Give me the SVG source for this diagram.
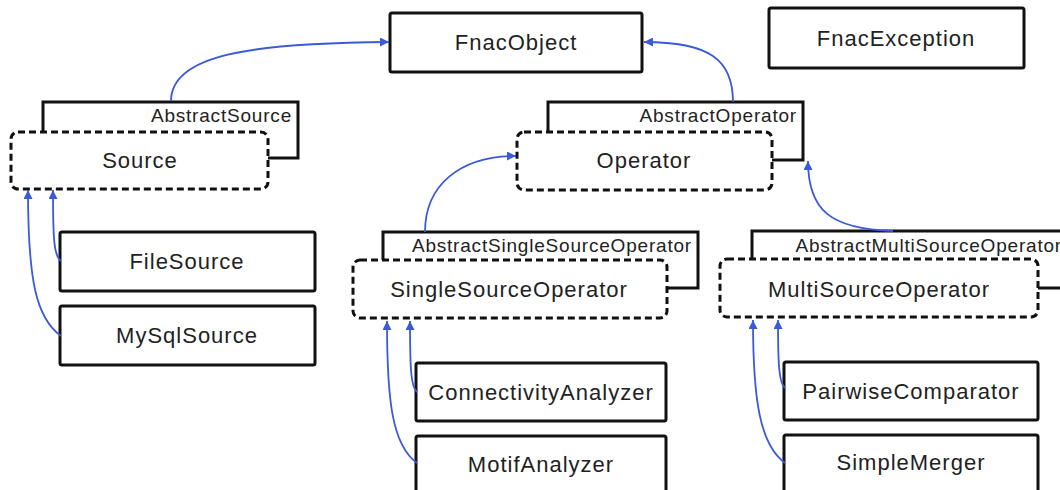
<svg xmlns="http://www.w3.org/2000/svg" width="1060" height="490" viewBox="0 0 1060 490">
  <defs>
    <style>
      .box { fill: #fff; stroke: #111; stroke-width: 3; }
      .dash { fill: #fff; stroke: #111; stroke-width: 3; stroke-dasharray: 7 4; }
      .t { font-family: "Liberation Sans", Arial, sans-serif; font-size: 22px; letter-spacing: 1px; fill: #222; text-anchor: middle; }
      .a { font-family: "Liberation Sans", Arial, sans-serif; font-size: 19px; letter-spacing: 0.8px; fill: #222; text-anchor: end; }
      .c { fill: none; stroke: #3a5ad8; stroke-width: 1.8; marker-end: url(#arr); }
    </style>
    <marker id="arr" viewBox="0 0 10 10" refX="10" refY="5" markerWidth="11" markerHeight="9" markerUnits="userSpaceOnUse" orient="auto">
      <path d="M0,0 L10,5 L0,10 z" fill="#3a5ad8"/>
    </marker>
  </defs>
  <rect width="1060" height="490" fill="#fff"/>

  <g id="FnacObject">
    <rect class="box" x="390" y="13" width="252" height="59" rx="2"/>
    <text class="t" x="516" y="50">FnacObject</text>
  </g>
  <g id="FnacException">
    <rect class="box" x="769" y="8" width="255" height="60" rx="2"/>
    <text class="t" x="896" y="46">FnacException</text>
  </g>

  <g id="AbstractSource">
    <rect class="box" x="43" y="102" width="255" height="56"/>
    <text class="a" x="292" y="122">AbstractSource</text>
  </g>
  <g id="Source">
    <rect class="dash" x="11" y="132" width="257" height="57" rx="7"/>
    <text class="t" x="140" y="168">Source</text>
  </g>
  <g id="FileSource">
    <rect class="box" x="60" y="232" width="255" height="59" rx="2"/>
    <text class="t" x="187" y="269">FileSource</text>
  </g>
  <g id="MySqlSource">
    <rect class="box" x="60" y="306" width="255" height="59" rx="2"/>
    <text class="t" x="187" y="343">MySqlSource</text>
  </g>

  <g id="AbstractOperator">
    <rect class="box" x="548" y="102" width="255" height="58"/>
    <text class="a" x="797" y="122">AbstractOperator</text>
  </g>
  <g id="Operator">
    <rect class="dash" x="517" y="132" width="255" height="58" rx="7"/>
    <text class="t" x="644" y="168">Operator</text>
  </g>

  <g id="AbstractSingleSourceOperator">
    <rect class="box" x="383" y="232" width="315" height="56"/>
    <text class="a" x="692" y="252">AbstractSingleSourceOperator</text>
  </g>
  <g id="SingleSourceOperator">
    <rect class="dash" x="353" y="260" width="314" height="58" rx="7"/>
    <text class="t" x="509" y="297">SingleSourceOperator</text>
  </g>
  <g id="ConnectivityAnalyzer">
    <rect class="box" x="416" y="363" width="250" height="58" rx="2"/>
    <text class="t" x="541" y="400">ConnectivityAnalyzer</text>
  </g>
  <g id="MotifAnalyzer">
    <rect class="box" x="416" y="436" width="250" height="70" rx="2"/>
    <text class="t" x="541" y="472">MotifAnalyzer</text>
  </g>

  <g id="AbstractMultiSourceOperator">
    <rect class="box" x="752" y="231" width="315" height="57"/>
    <text class="a" x="1062" y="252">AbstractMultiSourceOperator</text>
  </g>
  <g id="MultiSourceOperator">
    <rect class="dash" x="720" y="259" width="318" height="58" rx="7"/>
    <text class="t" x="879" y="297">MultiSourceOperator</text>
  </g>
  <g id="PairwiseComparator">
    <rect class="box" x="784" y="362" width="254" height="58" rx="2"/>
    <text class="t" x="911" y="399">PairwiseComparator</text>
  </g>
  <g id="SimpleMerger">
    <rect class="box" x="784" y="435" width="254" height="70" rx="2"/>
    <text class="t" x="911" y="470">SimpleMerger</text>
  </g>

  <g id="connectors">
    <path class="c" d="M171 101 C171 55 250 43 389 42"/>
    <path class="c" d="M733 102 C733 60 710 42 644 42"/>
    <path class="c" d="M425 232 C425 185 460 156 516 156"/>
    <path class="c" d="M893 231 C830 229 808 210 808 161"/>
    <path class="c" d="M61 261 C54 256 53 240 53 190"/>
    <path class="c" d="M61 336 C36 318 28 280 28 190"/>
    <path class="c" d="M417 392 C411 387 410 370 410 321"/>
    <path class="c" d="M417 463 C392 445 387 400 387 321"/>
    <path class="c" d="M785 388 C779 383 778 365 778 320"/>
    <path class="c" d="M785 463 C760 445 753 400 753 320"/>
  </g>
</svg>
